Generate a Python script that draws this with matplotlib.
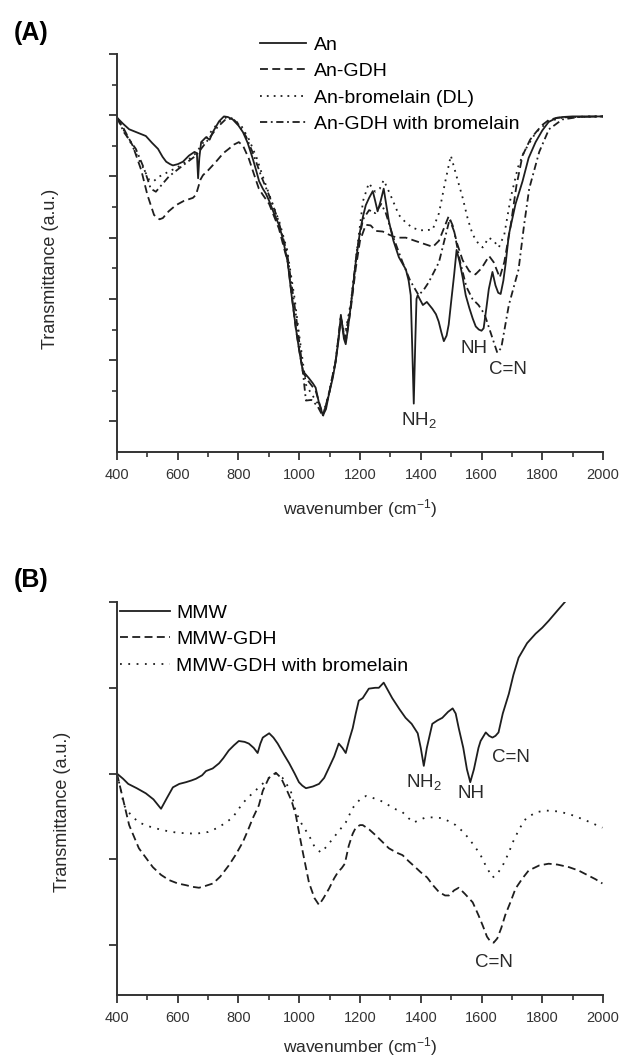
import numpy as np
import matplotlib
matplotlib.use('Agg')
import matplotlib.pyplot as plt

plt.rcParams['font.family'] = ['Liberation Sans', 'DejaVu Sans']
plt.rcParams['mathtext.fontset'] = 'custom'
plt.rcParams['mathtext.rm'] = 'Liberation Sans'
plt.rcParams['mathtext.it'] = 'Liberation Sans'

# ---- panel A: An samples (wavenumber, transmittance in a.u.) ----
an_w = [400, 420, 440, 465, 495, 515, 535, 550, 562, 575, 584, 600, 617, 637, 655, 663, 667, 671, 677,
        693, 705, 715, 736, 752, 765, 781, 800, 815, 830, 847, 858, 868, 880, 890, 901, 915, 933, 945,
        962, 975, 989, 1000, 1012, 1031, 1045, 1054, 1065, 1078, 1088, 1098, 1110, 1120, 1130, 1137,
        1142, 1147, 1153, 1160, 1170, 1186, 1200, 1210, 1219, 1230, 1242, 1250, 1258, 1268, 1278, 1286,
        1295, 1310, 1328, 1351, 1360, 1367, 1372, 1377, 1382, 1386, 1390, 1407, 1420, 1438, 1450, 1459,
        1468, 1476, 1485, 1492, 1500, 1510, 1518, 1528, 1538, 1548, 1560, 1571, 1581, 1591, 1600, 1607,
        1616, 1624, 1636, 1646, 1655, 1663, 1672, 1680, 1690, 1712, 1735, 1755, 1778, 1800, 1821, 1845,
        1866, 1900, 1950, 2000]
an_t = [4.96, 4.86, 4.77, 4.72, 4.66, 4.55, 4.45, 4.32, 4.24, 4.2, 4.18, 4.2, 4.24, 4.34, 4.4, 4.38, 3.97,
        4.3, 4.56, 4.64, 4.6, 4.72, 4.9, 4.98, 4.97, 4.93, 4.83, 4.72, 4.55, 4.29, 4.1, 3.92, 3.8, 3.72,
        3.6, 3.42, 3.21, 3.0, 2.6, 2.05, 1.52, 1.15, 0.82, 0.71, 0.62, 0.55, 0.3, 0.1, 0.2, 0.45, 0.7,
        0.98, 1.35, 1.74, 1.55, 1.35, 1.26, 1.5, 1.9, 2.6, 3.1, 3.35, 3.53, 3.65, 3.76, 3.6, 3.43, 3.6,
        3.8, 3.55, 3.27, 2.95, 2.68, 2.48, 2.3, 2.06, 1.2, 0.29, 1.3, 2.0, 2.06, 1.9, 1.95, 1.84, 1.75,
        1.63, 1.45, 1.31, 1.4, 1.58, 1.95, 2.4, 2.8, 2.6, 2.35, 2.06, 1.85, 1.68, 1.55, 1.5, 1.48, 1.52,
        1.85, 2.16, 2.44, 2.22, 2.1, 2.08, 2.3, 2.6, 3.05, 3.55, 3.92, 4.3, 4.56, 4.75, 4.89, 4.95, 4.97,
        4.98, 4.98, 4.98]

gdh_w = [400, 420, 452, 480, 500, 522, 540, 551, 570, 594, 620, 650, 660, 666, 675, 683, 700, 726, 750,
         768, 785, 801, 815, 834, 850, 867, 880, 901, 933, 962, 989, 1012, 1031, 1054, 1078, 1098, 1120,
         1137, 1147, 1153, 1170, 1186, 1200, 1219, 1235, 1252, 1275, 1295, 1320, 1351, 1380, 1410, 1440,
         1460, 1480, 1492, 1505, 1520, 1538, 1560, 1580, 1600, 1625, 1640, 1660, 1675, 1696, 1715, 1735,
         1760, 1779, 1800, 1821, 1850, 1900, 2000]
gdh_t = [4.96, 4.8, 4.5, 4.1, 3.7, 3.37, 3.3, 3.32, 3.43, 3.53, 3.6, 3.65, 3.7, 3.8, 3.95, 4.02, 4.1,
         4.24, 4.38, 4.45, 4.52, 4.56, 4.5, 4.29, 4.05, 3.8, 3.7, 3.55, 3.15, 2.6, 1.5, 0.8, 0.65, 0.5,
         0.1, 0.45, 0.98, 1.7, 1.4, 1.3, 1.85, 2.5, 2.95, 3.21, 3.2, 3.11, 3.1, 3.05, 3.0, 3.0, 2.95, 2.9,
         2.85, 2.95, 3.2, 3.35, 3.2, 2.9, 2.63, 2.45, 2.4, 2.5, 2.7, 2.6, 2.35, 2.6, 3.2, 3.85, 4.34, 4.6,
         4.72, 4.84, 4.92, 4.96, 4.97, 4.98]

brom_w = [400, 423, 445, 470, 490, 505, 520, 540, 571, 600, 630, 660, 690, 720, 745, 765, 785, 810, 835,
          860, 880, 905, 935, 960, 985, 1000, 1022, 1040, 1060, 1078, 1095, 1120, 1137, 1150, 1170, 1190,
          1210, 1229, 1250, 1265, 1278, 1300, 1328, 1350, 1373, 1400, 1439, 1460, 1480, 1499, 1518, 1538,
          1555, 1571, 1590, 1604, 1624, 1640, 1657, 1675, 1696, 1720, 1740, 1779, 1821, 1866, 1950, 2000]
brom_t = [4.96, 4.75, 4.55, 4.3, 4.1, 3.95, 3.92, 4.0, 4.08, 4.15, 4.25, 4.38, 4.6, 4.8, 4.92, 4.98, 4.93,
          4.82, 4.6, 4.3, 4.0, 3.65, 3.25, 2.8, 2.0, 1.4, 0.6, 0.45, 0.3, 0.12, 0.4, 1.0, 1.7, 1.4, 1.95,
          2.8, 3.6, 3.89, 3.75, 3.8, 3.94, 3.7, 3.37, 3.25, 3.16, 3.12, 3.13, 3.4, 3.9, 4.34, 4.0, 3.65,
          3.3, 3.05, 2.9, 2.84, 3.0, 2.95, 2.84, 3.05, 3.65, 4.15, 4.4, 4.72, 4.9, 4.96, 4.98, 4.98]

gdhb_w = [400, 423, 462, 489, 511, 528, 545, 571, 617, 660, 700, 730, 755, 780, 800, 825, 850, 875, 900,
          930, 960, 990, 1010, 1022, 1040, 1060, 1078, 1098, 1120, 1137, 1150, 1170, 1190, 1210, 1230, 1250,
          1270, 1285, 1310, 1340, 1365, 1393, 1410, 1426, 1460, 1480, 1495, 1510, 1530, 1550, 1570, 1590,
          1610, 1630, 1652, 1665, 1690, 1722, 1740, 1757, 1790, 1822, 1866, 1920, 2000]
gdhb_t = [4.96, 4.72, 4.45, 4.13, 3.8, 3.75, 3.85, 4.0, 4.18, 4.34, 4.6, 4.8, 4.92, 4.95, 4.85, 4.65, 4.35,
          4.0, 3.7, 3.3, 2.75, 1.7, 0.9, 0.34, 0.35, 0.25, 0.08, 0.45, 1.0, 1.7, 1.35, 1.9, 2.8, 3.3, 3.45,
          3.4, 3.55, 3.4, 3.0, 2.6, 2.3, 2.06, 2.15, 2.27, 2.6, 3.0, 3.3, 3.1, 2.6, 2.2, 2.0, 1.9, 1.75,
          1.45, 1.12, 1.2, 1.9, 2.48, 3.2, 3.8, 4.4, 4.77, 4.93, 4.97, 4.98]

# ---- panel B: MMW samples ----
mmw_w = [400, 420, 437, 465, 495, 520, 545, 565, 584, 605, 627, 645, 660, 680, 693, 715, 736, 750, 768,
         785, 801, 820, 834, 850, 863, 872, 880, 901, 915, 929, 950, 967, 985, 999, 1010, 1022, 1045, 1065,
         1082, 1098, 1115, 1130, 1142, 1153, 1165, 1176, 1186, 1196, 1209, 1229, 1250, 1262, 1278, 1292,
         1306, 1330, 1350, 1370, 1390, 1400, 1410, 1420, 1438, 1455, 1471, 1490, 1505, 1515, 1525, 1540,
         1552, 1563, 1575, 1590, 1597, 1614, 1625, 1636, 1646, 1656, 1670, 1690, 1705, 1722, 1750, 1778,
         1800, 1821, 1850, 1877]
mmw_t = [2.0, 1.94, 1.88, 1.83, 1.77, 1.7, 1.59, 1.72, 1.84, 1.88, 1.9, 1.92, 1.94, 1.98, 2.03, 2.06, 2.12,
         2.18, 2.27, 2.33, 2.38, 2.37, 2.35, 2.3, 2.24, 2.35, 2.42, 2.47, 2.42, 2.35, 2.22, 2.12, 2.0, 1.9,
         1.86, 1.83, 1.85, 1.88, 1.95, 2.07, 2.2, 2.35, 2.3, 2.24, 2.4, 2.53, 2.7, 2.85, 2.88, 2.99, 3.0,
         3.0, 3.06, 2.97, 2.88, 2.75, 2.65, 2.58, 2.47, 2.3, 2.09, 2.3, 2.58, 2.62, 2.65, 2.72, 2.76, 2.7,
         2.53, 2.3, 2.05, 1.9, 2.05, 2.3, 2.38, 2.48, 2.44, 2.42, 2.44, 2.48, 2.7, 2.93, 3.15, 3.35, 3.52,
         3.63, 3.7, 3.78, 3.9, 4.01]

mgdh_w = [400, 420, 440, 472, 518, 545, 571, 600, 627, 650, 670, 690, 716, 740, 768, 790, 814, 830, 847,
          867, 880, 900, 923, 940, 960, 975, 989, 1000, 1012, 1032, 1050, 1065, 1080, 1098, 1115, 1127, 1140,
          1150, 1163, 1176, 1186, 1200, 1209, 1230, 1252, 1275, 1295, 1320, 1340, 1360, 1382, 1400, 1421,
          1440, 1460, 1480, 1493, 1510, 1525, 1545, 1571, 1590, 1604, 1618, 1630, 1640, 1652, 1665, 1678,
          1695, 1712, 1735, 1755, 1790, 1821, 1850, 1888, 1920, 1953, 1975, 1998]
mgdh_t = [2.0, 1.7, 1.4, 1.13, 0.91, 0.82, 0.76, 0.72, 0.7, 0.68, 0.67, 0.69, 0.72, 0.8, 0.93, 1.05, 1.2,
          1.33, 1.48, 1.63, 1.8, 1.95, 2.01, 1.95, 1.8, 1.68, 1.51, 1.3, 1.08, 0.73, 0.55, 0.47, 0.55, 0.66,
          0.78, 0.85, 0.9, 0.95, 1.16, 1.3, 1.37, 1.4, 1.4, 1.35, 1.28, 1.2, 1.13, 1.08, 1.05, 0.98, 0.91,
          0.85, 0.79, 0.7, 0.62, 0.58, 0.58, 0.64, 0.67, 0.6, 0.5, 0.35, 0.23, 0.1, 0.04, 0.03, 0.08, 0.2,
          0.35, 0.5, 0.66, 0.78, 0.87, 0.93, 0.95, 0.94, 0.91, 0.87, 0.81, 0.77, 0.72]

mgdhb_w = [400, 410, 423, 445, 472, 510, 551, 600, 660, 700, 726, 755, 781, 815, 840, 867, 900, 923, 945,
           972, 989, 1010, 1032, 1050, 1071, 1090, 1110, 1130, 1153, 1176, 1200, 1220, 1240, 1270, 1295,
           1320, 1340, 1360, 1377, 1395, 1417, 1445, 1472, 1495, 1515, 1540, 1559, 1580, 1597, 1615, 1636,
           1650, 1670, 1690, 1703, 1725, 1747, 1780, 1811, 1850, 1888, 1940, 1998]
mgdhb_t = [2.0, 1.85, 1.63, 1.52, 1.43, 1.38, 1.34, 1.31, 1.3, 1.32, 1.36, 1.42, 1.49, 1.66, 1.75, 1.84,
           1.95, 2.0, 1.95, 1.8, 1.55, 1.4, 1.28, 1.15, 1.08, 1.15, 1.24, 1.33, 1.43, 1.6, 1.7, 1.74, 1.72,
           1.68, 1.63, 1.58, 1.55, 1.48, 1.43, 1.46, 1.49, 1.49, 1.48, 1.44, 1.4, 1.32, 1.24, 1.14, 1.05,
           0.92, 0.79, 0.82, 0.93, 1.08, 1.2, 1.36, 1.48, 1.55, 1.57, 1.56, 1.53, 1.46, 1.37]

x_ticks = [400, 600, 800, 1000, 1200, 1400, 1600, 1800, 2000]

# 线型 (Origin 风格)
ink = '#1e1e1e'
txt = '#2a2a2a'
lw = 1.3
dashed = (0, (4.4, 2.4))
dotted_a = (0, (1.0, 2.8))
dotted_b = (0, (1.0, 3.6))
dashdot = (0, (4.0, 2.0, 1.0, 2.0))

fig = plt.figure(figsize=(6.2, 10.6), dpi=100)
axA = fig.add_axes([0.1887, 0.5736, 0.7839, 0.3755])
axB = fig.add_axes([0.1887, 0.0613, 0.7839, 0.3708])


def style_axes(ax, labelpad):
    for s in ['top', 'right']:
        ax.spines[s].set_visible(False)
    for s in ['left', 'bottom']:
        ax.spines[s].set_linewidth(1.4)
        ax.spines[s].set_color('#333333')
    ax.set_xlim(400, 2000)
    ax.set_xticks(x_ticks)
    ax.set_xticks(np.arange(500, 2000, 200), minor=True)
    ax.tick_params(axis='both', which='major', direction='out', length=6, width=1.3,
                   colors='#333333', labelsize=10.5, pad=5.5)
    ax.tick_params(axis='both', which='minor', direction='out', length=3.5, width=1.2, colors='#333333')
    ax.tick_params(axis='y', labelleft=False)
    ax.set_xlabel('wavenumber (cm$^{-1}$)', fontsize=12.5, color=txt, labelpad=labelpad)
    ax.set_ylabel('Transmittance (a.u.)', fontsize=13, color=txt)


leg_kw = dict(loc='upper left', frameon=False, fontsize=14,
              labelspacing=0.45, borderaxespad=0)

# (A)
axA.plot(an_w, an_t, color=ink, lw=lw, ls='-', label='An')
axA.plot(gdh_w, gdh_t, color=ink, lw=lw, ls=dashed, label='An-GDH')
axA.plot(brom_w, brom_t, color=ink, lw=lw, ls=dotted_a, label='An-bromelain (DL)')
axA.plot(gdhb_w, gdhb_t, color=ink, lw=lw, ls=dashdot, label='An-GDH with bromelain')
style_axes(axA, 11)
axA.set_ylim(-0.5, 6.0)
axA.set_yticks(np.arange(0, 6.1, 1))
axA.set_yticks(np.arange(0.5, 6, 1), minor=True)
axA.yaxis.set_label_coords(-0.12, 0.46)
axA.legend(bbox_to_anchor=(0.278, 1.064), handlelength=2.35, handletextpad=0.45, **leg_kw)
axA.text(1393, 0.02, 'NH$_2$', fontsize=13.5, ha='center', va='center', color=txt)
axA.text(1575, 1.19, 'NH', fontsize=13.5, ha='center', va='center', color=txt)
axA.text(1687, 0.85, 'C=N', fontsize=13.5, ha='center', va='center', color=txt)

# (B)
axB.plot(mmw_w, mmw_t, color=ink, lw=lw, ls='-', label='MMW')
axB.plot(mgdh_w, mgdh_t, color=ink, lw=lw, ls=dashed, label='MMW-GDH')
axB.plot(mgdhb_w, mgdhb_t, color=ink, lw=lw, ls=dotted_b, label='MMW-GDH with bromelain')
style_axes(axB, 7)
axB.set_ylim(-0.58, 4.0)
axB.set_yticks(np.arange(0, 4.1, 1))
axB.yaxis.set_label_coords(-0.095, 0.466)
axB.legend(bbox_to_anchor=(-0.01, 1.014), handlelength=2.6, handletextpad=0.3, **leg_kw)
axB.text(1410, 1.9, 'NH$_2$', fontsize=13.5, ha='center', va='center', color=txt)
axB.text(1564, 1.77, 'NH', fontsize=13.5, ha='center', va='center', color=txt)
axB.text(1696, 2.19, 'C=N', fontsize=13.5, ha='center', va='center', color=txt)
axB.text(1641, -0.2, 'C=N', fontsize=13.5, ha='center', va='center', color=txt)

fig.text(0.022, 0.969, '(A)', fontsize=18, fontweight='bold', ha='left', va='center')
fig.text(0.022, 0.4528, '(B)', fontsize=18, fontweight='bold', ha='left', va='center')

fig.savefig('out.png', dpi=100)
